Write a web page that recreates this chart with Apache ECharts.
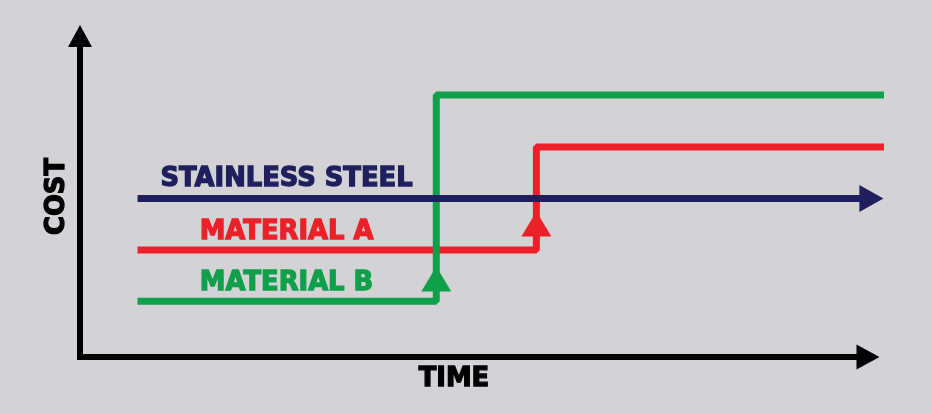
<!DOCTYPE html>
<html>
<head>
<meta charset="utf-8">
<script src="https://cdn.jsdelivr.net/npm/echarts@6/dist/echarts.min.js"></script>
<style>
  html, body { margin: 0; padding: 0; background: #d3d3d5; }
  #chart { width: 932px; height: 413px; }
</style>
</head>
<body>
<div id="chart"></div>
<script>
// values in axis units (time 0-102, cost 0-100)
const seriesNames = ['STAINLESS STEEL', 'MATERIAL A', 'MATERIAL B'];
const steelTime = [7.3, 100.4];
const steelCost = [49.4, 49.4];
const materialATime = [7.3, 57.9, 57.9, 102];
const materialACost = [33.3, 33.3, 65.4, 65.4];
const materialBTime = [7.3, 45.2, 45.2, 102];
const materialBCost = [17.4, 17.4, 81.6, 81.6];
// up-arrows on the switch points
const markerCost = [null, 41.4, 24.3];
const labelTime = 26.2;
const colors = ['#1e1f5c', '#ec2028', '#10a04c'];
const font = '"DejaVu Sans", sans-serif';
const fontSize = 25.8;

// heavy lettering: bold face plus a thin outline in the same colour
function heavyText(color) {
  return {
    color: color,
    fontFamily: font,
    fontWeight: 'bold',
    fontSize: fontSize,
    textBorderColor: color,
    textBorderWidth: 1.3
  };
}

function buildData(times, costs, idx) {
  const pts = times.map((t, i) => [t, costs[i]]);
  const data = [];
  pts.forEach((p, i) => {
    data.push({ value: p });
    // label hangs on an invisible point along the first segment
    if (i === 0) {
      data.push({
        value: [labelTime, p[1]],
        symbol: 'circle',
        symbolSize: 0,
        label: Object.assign({
          show: true,
          position: 'inside',
          offset: [0, idx === 0 ? -19.5 : -17.5],
          formatter: seriesNames[idx]
        }, heavyText(colors[idx]))
      });
    }
    // marker in the middle of the vertical step
    if (markerCost[idx] != null && i === 1) {
      data.push({
        value: [p[0], markerCost[idx]],
        symbol: 'triangle',
        symbolSize: [30, 25]
      });
    }
  });
  // arrow head at the end of the steel line
  if (idx === 0) {
    const last = data[data.length - 1];
    last.symbol = 'triangle';
    last.symbolSize = [27, 24];
    last.symbolRotate = -90;
  }
  return data;
}

const allTimes = [steelTime, materialATime, materialBTime];
const allCosts = [steelCost, materialACost, materialBCost];
const order = [1, 2, 0];

const hidden = {
  axisLine: { show: false }, axisTick: { show: false },
  axisLabel: { show: false }, splitLine: { show: false }
};

const chart = echarts.init(document.getElementById('chart'));
chart.setOption({
  backgroundColor: '#d3d3d5',
  animation: false,
  grid: [
    { left: 80, right: 64, top: 36, bottom: 56 },
    { left: 80, right: 48, top: 36, bottom: 56 }
  ],
  xAxis: [{
    type: 'value',
    gridIndex: 0,
    min: 0,
    max: 100,
    name: 'TIME',
    nameLocation: 'middle',
    nameGap: 9,
    nameTextStyle: Object.assign(heavyText('#000'), { padding: [0, 40, 0, 0] }),
    axisLine: {
      lineStyle: { color: '#000', width: 6, cap: 'square' },
      symbol: ['none', 'triangle'],
      symbolSize: [25, 23]
    },
    axisTick: { show: false },
    axisLabel: { show: false },
    splitLine: { show: false }
  }, Object.assign({ type: 'value', gridIndex: 1, min: 0, max: 102 }, hidden)],
  yAxis: [{
    type: 'value',
    gridIndex: 0,
    min: 0,
    max: 100,
    name: 'COST',
    nameLocation: 'middle',
    nameGap: 10,
    nameTextStyle: heavyText('#000'),
    axisLine: {
      show: true,
      lineStyle: { color: '#000', width: 6, cap: 'square' },
      symbol: ['none', 'triangle'],
      symbolSize: [24, 22]
    },
    axisTick: { show: false },
    axisLabel: { show: false },
    splitLine: { show: false }
  }, Object.assign({ type: 'value', gridIndex: 1, min: 0, max: 100 }, hidden)],
  series: order.map(idx => ({
    name: seriesNames[idx],
    type: 'line',
    xAxisIndex: 1,
    yAxisIndex: 1,
    symbol: 'none',
    lineStyle: { color: colors[idx], width: 7 },
    itemStyle: { color: colors[idx] },
    data: buildData(allTimes[idx], allCosts[idx], idx)
  }))
});
</script>
</body>
</html>
